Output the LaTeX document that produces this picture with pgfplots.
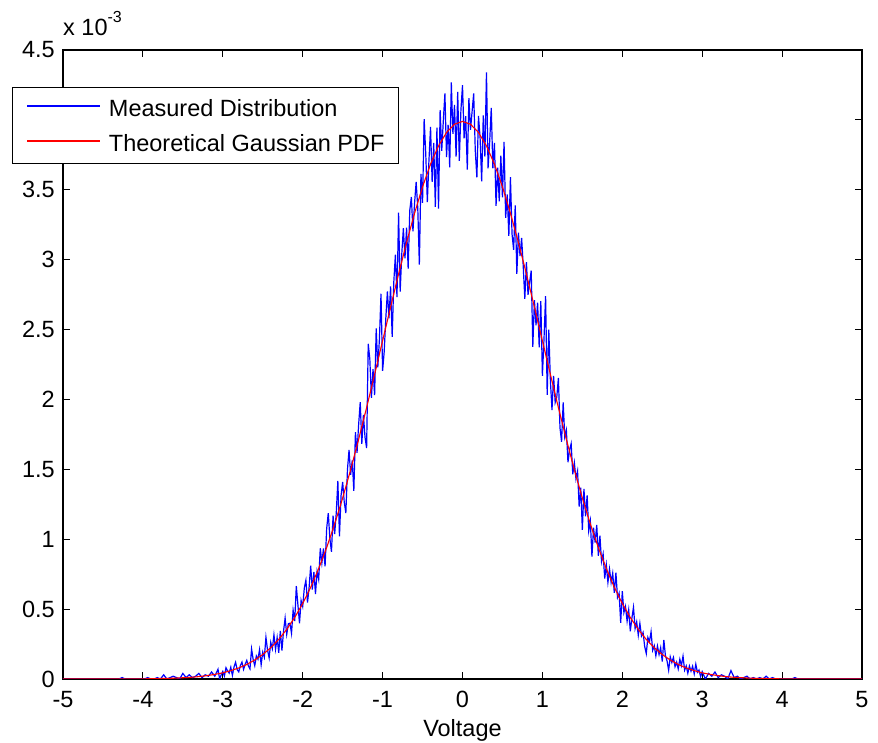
\documentclass[border=0pt]{standalone}
\usepackage{fontspec}
\setmainfont{Liberation Sans}
\usepackage{pgfplots}
\pgfplotsset{compat=1.18}

\newcommand{\chartfont}{\fontsize{23.5}{28}\selectfont}

\begin{document}
\begin{tikzpicture}
\useasboundingbox (-63pt,-64pt) rectangle (815pt,679pt);
\begin{axis}[
  at={(0pt,0pt)}, anchor=south west,
  scale only axis, width=799pt, height=629pt,
  xmin=-5, xmax=5, ymin=0, ymax=4.5,
  xtick={-5,-4,-3,-2,-1,0,1,2,3,4,5},
  ytick={0,0.5,1,1.5,2,2.5,3,3.5,4,4.5},
  tick pos=both, tick align=inside, major tick length=7pt,
  every tick/.style={black, line width=1pt},
  axis line style={black, line width=1.3pt},
  /pgf/number format/assume math mode=true,
  tick label style={font=\chartfont},
  xticklabel style={inner sep=0pt, yshift=-12pt},
  yticklabel style={inner sep=0pt, xshift=-8pt},
  xlabel={Voltage},
  xlabel style={at={(axis description cs:0.5,0)}, anchor=base, yshift=-58pt, font=\chartfont},
  legend style={at={(-0.0638,0.9412)}, anchor=north west, draw=black, line width=1.2pt,
    fill=white, font=\chartfont, inner xsep=14pt, inner ysep=12pt,
    row sep=18pt, column sep=8pt,
    nodes={inner sep=0pt, text height=17pt, text depth=0pt}},
  legend cell align=left,
  legend image code/.code={\draw[#1, line width=1.3pt] (0pt,2pt) -- (73pt,2pt);},
]

% histogram of the measured samples (bin values, x 1e-3)
\addplot[color=blue, line width=1.2pt] coordinates {
(-5,0) (-4.30,0) (-4.26,0.01) (-4.22,0) (-3.98,0) (-3.94,0.01) (-3.90,0) (-3.86,0)
(-3.82,0.01) (-3.78,0) (-3.74,0.03) (-3.70,0) (-3.66,0.01) (-3.62,0.02) (-3.58,0.01)
(-3.54,0) (-3.50,0.04) (-3.46,0.01) (-3.42,0.03) (-3.38,0.01) (-3.34,0.02) (-3.30,0.04)
(-3.26,0.01) (-3.22,0.03) (-3.18,0.02) (-3.14,0.05) (-3.10,0.02) (-3.06,0.07) (-3.04,0)
(-3.02,0.03) (-3.00,0.054) (-2.98,0.021) (-2.96,0.081) (-2.94,0.058) (-2.92,0.042)
(-2.90,0.084) (-2.88,0.026) (-2.86,0.085) (-2.84,0.119) (-2.82,0.067) (-2.80,0.051)
(-2.78,0.096) (-2.76,0.121) (-2.74,0.069) (-2.72,0.105) (-2.70,0.133) (-2.68,0.094)
(-2.66,0.072) (-2.64,0.215) (-2.62,0.140) (-2.60,0.095) (-2.58,0.165) (-2.56,0.142)
(-2.54,0.210) (-2.52,0.102) (-2.50,0.192) (-2.48,0.155) (-2.46,0.299) (-2.44,0.207)
(-2.42,0.151) (-2.40,0.262) (-2.38,0.216) (-2.36,0.316) (-2.34,0.212) (-2.32,0.296)
(-2.30,0.188) (-2.28,0.344) (-2.26,0.204) (-2.24,0.342) (-2.22,0.436) (-2.20,0.319)
(-2.18,0.395) (-2.16,0.399) (-2.14,0.327) (-2.12,0.492) (-2.10,0.414) (-2.08,0.665)
(-2.06,0.531) (-2.04,0.399) (-2.02,0.562) (-2.00,0.518) (-1.98,0.650) (-1.96,0.706)
(-1.94,0.546) (-1.92,0.654) (-1.90,0.810) (-1.88,0.640) (-1.86,0.766) (-1.84,0.608)
(-1.82,0.770) (-1.80,0.712) (-1.78,0.935) (-1.76,0.830) (-1.74,0.934) (-1.72,0.806)
(-1.70,1.076) (-1.68,1.187) (-1.66,1.006) (-1.64,0.910) (-1.62,1.168) (-1.60,1.036)
(-1.58,1.188) (-1.56,1.417) (-1.54,1.021) (-1.52,1.312) (-1.50,1.409) (-1.48,1.266)
(-1.46,1.187) (-1.44,1.497) (-1.42,1.638) (-1.40,1.461) (-1.38,1.564) (-1.36,1.346)
(-1.34,1.766) (-1.32,1.618) (-1.30,1.819) (-1.28,1.981) (-1.26,1.683) (-1.24,1.889)
(-1.22,1.729) (-1.20,1.652) (-1.18,2.398) (-1.16,2.290) (-1.14,2.011) (-1.12,2.217)
(-1.10,2.031) (-1.08,2.508) (-1.06,2.230) (-1.04,2.429) (-1.02,2.756) (-1.00,2.204)
(-0.98,2.342) (-0.96,2.579) (-0.94,2.773) (-0.92,2.581) (-0.90,2.808) (-0.88,2.448)
(-0.86,2.839) (-0.84,3.035) (-0.82,2.732) (-0.80,3.336) (-0.78,2.771) (-0.76,3.041)
(-0.74,3.225) (-0.72,3.009) (-0.70,3.229) (-0.68,2.936) (-0.66,3.352) (-0.64,3.448)
(-0.62,3.202) (-0.60,3.404) (-0.58,3.556) (-0.56,3.373) (-0.54,2.964) (-0.52,3.614)
(-0.50,3.407) (-0.48,4.006) (-0.46,3.760) (-0.44,3.412) (-0.42,3.709) (-0.40,3.949)
(-0.38,3.557) (-0.36,3.836) (-0.34,3.377) (-0.32,3.945) (-0.30,3.365) (-0.28,4.070)
(-0.26,3.778) (-0.24,3.994) (-0.22,4.190) (-0.20,3.733) (-0.18,3.965) (-0.16,3.661)
(-0.14,4.268) (-0.12,3.900) (-0.10,4.108) (-0.08,3.737) (-0.06,4.201) (-0.04,3.707)
(-0.02,4.068) (0.00,4.248) (0.02,3.868) (0.04,4.026) (0.06,3.644) (0.08,4.155)
(0.10,3.929) (0.12,4.059) (0.14,4.189) (0.16,3.779) (0.18,3.588) (0.20,4.028)
(0.22,3.874) (0.24,3.561) (0.26,4.032) (0.28,3.738) (0.30,4.340) (0.32,3.654)
(0.34,3.843) (0.36,4.086) (0.38,3.653) (0.40,3.836) (0.42,3.385) (0.44,3.659)
(0.46,3.418) (0.48,3.744) (0.50,3.445) (0.52,3.843) (0.54,3.299) (0.56,3.466)
(0.58,3.170) (0.60,3.590) (0.62,3.183) (0.64,3.070) (0.66,3.388) (0.68,2.898)
(0.70,3.194) (0.72,3.026) (0.74,3.156) (0.76,2.954) (0.78,2.719) (0.80,2.983)
(0.82,2.749) (0.84,2.837) (0.86,2.922) (0.88,2.377) (0.90,2.710) (0.92,2.531)
(0.94,2.693) (0.96,2.372) (0.98,2.704) (1.00,2.169) (1.02,2.433) (1.04,2.739)
(1.06,2.033) (1.08,2.499) (1.10,2.135) (1.12,1.924) (1.14,2.169) (1.16,1.978)
(1.18,2.017) (1.20,2.154) (1.22,1.798) (1.24,1.697) (1.26,1.978) (1.28,1.731)
(1.30,1.780) (1.32,1.551) (1.34,1.639) (1.36,1.684) (1.38,1.465) (1.40,1.547)
(1.42,1.432) (1.44,1.488) (1.46,1.234) (1.48,1.369) (1.50,1.067) (1.52,1.360)
(1.54,1.164) (1.56,1.314) (1.58,1.059) (1.60,1.130) (1.62,0.876) (1.64,1.082)
(1.66,0.976) (1.68,1.103) (1.70,0.882) (1.72,1.025) (1.74,0.840) (1.76,0.895)
(1.78,0.719) (1.80,0.817) (1.82,0.691) (1.84,0.786) (1.86,0.690) (1.88,0.757)
(1.90,0.616) (1.92,0.761) (1.94,0.583) (1.96,0.614) (1.98,0.402) (2.00,0.628)
(2.02,0.475) (2.04,0.519) (2.06,0.414) (2.08,0.495) (2.10,0.341) (2.12,0.435)
(2.14,0.513) (2.16,0.361) (2.18,0.409) (2.20,0.313) (2.22,0.399) (2.24,0.308)
(2.26,0.333) (2.28,0.233) (2.30,0.182) (2.32,0.297) (2.34,0.268) (2.36,0.338)
(2.38,0.205) (2.40,0.238) (2.42,0.166) (2.44,0.236) (2.46,0.175) (2.48,0.224)
(2.50,0.125) (2.52,0.279) (2.54,0.166) (2.56,0.130) (2.58,0.063) (2.60,0.158)
(2.62,0.118) (2.64,0.154) (2.66,0.088) (2.68,0.120) (2.70,0.072) (2.72,0.141)
(2.74,0.096) (2.76,0.163) (2.78,0.063) (2.80,0.093) (2.82,0.041) (2.84,0.093)
(2.86,0.056) (2.88,0.091) (2.90,0.037) (2.92,0.106) (2.94,0.048) (2.96,0.064)
(2.98,0.017) (3.00,0.053) (3.04,0) (3.08,0.04) (3.12,0.02) (3.16,0.05) (3.20,0.01)
(3.24,0.03) (3.28,0.02) (3.32,0) (3.36,0.06) (3.40,0.01) (3.44,0.02) (3.48,0)
(3.52,0.01) (3.56,0.02) (3.60,0) (3.64,0.01) (3.68,0) (3.72,0.01) (3.76,0)
(3.80,0.02) (3.84,0) (3.88,0.01) (3.92,0) (4.12,0) (4.16,0.01) (4.20,0) (5,0)
};
\addlegendentry{Measured Distribution}

% standard normal density scaled by the bin width (x 1e-3)
\addplot[color=red, line width=1.1pt] coordinates {
(-5.0,0) (-4.5,0) (-4.2,0.001) (-4.0,0.001) (-3.9,0.002) (-3.8,0.003) (-3.7,0.004)
(-3.6,0.006) (-3.5,0.009) (-3.4,0.012) (-3.3,0.017) (-3.2,0.024) (-3.1,0.033)
(-3.0,0.044) (-2.9,0.060) (-2.8,0.079) (-2.7,0.104) (-2.6,0.136) (-2.5,0.175)
(-2.4,0.224) (-2.3,0.283) (-2.2,0.355) (-2.1,0.440) (-2.0,0.540) (-1.9,0.656)
(-1.8,0.790) (-1.7,0.940) (-1.6,1.109) (-1.5,1.295) (-1.4,1.497) (-1.3,1.714)
(-1.2,1.942) (-1.1,2.179) (-1.0,2.420) (-0.9,2.661) (-0.8,2.897) (-0.7,3.123)
(-0.6,3.332) (-0.5,3.521) (-0.4,3.683) (-0.3,3.814) (-0.2,3.910) (-0.1,3.969)
(0.0,3.989) (0.1,3.969) (0.2,3.910) (0.3,3.814) (0.4,3.683) (0.5,3.521) (0.6,3.332)
(0.7,3.123) (0.8,2.897) (0.9,2.661) (1.0,2.420) (1.1,2.179) (1.2,1.942) (1.3,1.714)
(1.4,1.497) (1.5,1.295) (1.6,1.109) (1.7,0.940) (1.8,0.790) (1.9,0.656) (2.0,0.540)
(2.1,0.440) (2.2,0.355) (2.3,0.283) (2.4,0.224) (2.5,0.175) (2.6,0.136) (2.7,0.104)
(2.8,0.079) (2.9,0.060) (3.0,0.044) (3.1,0.033) (3.2,0.024) (3.3,0.017) (3.4,0.012)
(3.5,0.009) (3.6,0.006) (3.7,0.004) (3.8,0.003) (3.9,0.002) (4.0,0.001) (4.2,0.001)
(4.5,0) (5.0,0)
};
\addlegendentry{Theoretical Gaussian PDF}
\end{axis}

% common exponent of the y axis
\node[anchor=base west, inner sep=0pt, font=\chartfont] at (0pt,643pt)
  {x 10\raisebox{13pt}{\fontsize{16}{18}\selectfont -3}};
\end{tikzpicture}
\end{document}
